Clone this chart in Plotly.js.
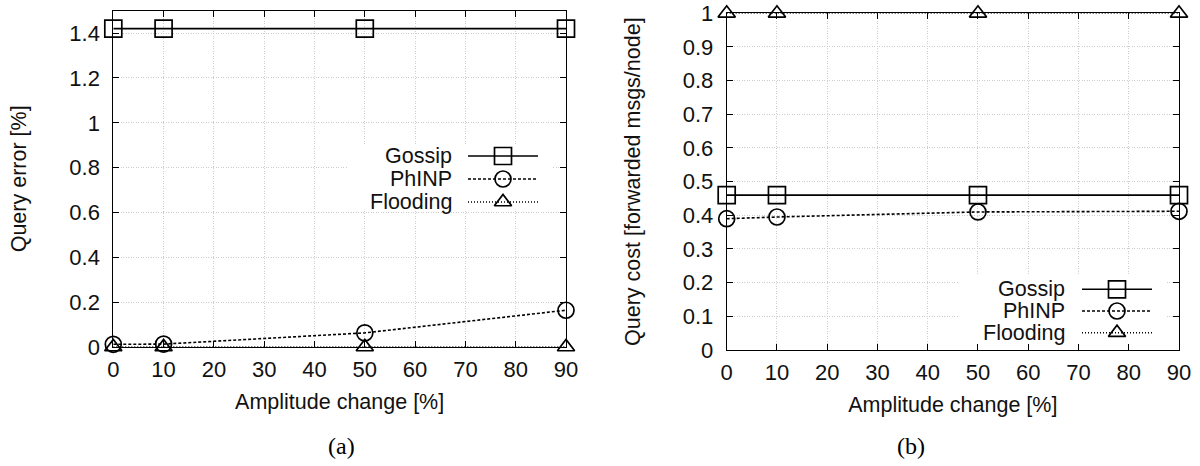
<!DOCTYPE html>
<html>
<head>
<meta charset="utf-8">
<script src="https://cdn.plot.ly/plotly-3.0.1.min.js"></script>
<style>
html,body{margin:0;padding:0;background:#fff;}
#chart{width:1200px;height:466px;}
</style>
</head>
<body>
<div id="chart"></div>
<script>
// ---- data ----
const amplitude = [0, 10, 50, 90];
const seriesNames = ["Gossip", "PhINP", "Flooding"];
const errGossip = [1.42, 1.42, 1.42, 1.42];
const errPhINP = [0.012, 0.013, 0.063, 0.164];
const errFlooding = [0, 0, 0, 0];
const costGossip = [0.46, 0.46, 0.46, 0.46];
const costPhINP = [0.39, 0.395, 0.41, 0.412];
const costFlooding = [1, 1, 1, 1];
const xTitle = "Amplitude change [%]";
const yTitleA = "Query error [%]";
const yTitleB = "Query cost [forwarded msgs/node]";
const captions = ["(a)", "(b)"];

// ---- styles ----
const FONT = "Liberation Sans, Arial, sans-serif";
const SERIF = "Liberation Serif, Times New Roman, serif";
const styles = [
  {line: {color: "#000", width: 1.6, dash: "solid"}, marker: {symbol: "square-open", size: 17, color: "#000", line: {width: 1.7, color: "#000"}}},
  {line: {color: "#000", width: 1.6, dash: "3px,2px"}, marker: {symbol: "circle-open", size: 16, color: "#000", line: {width: 1.7, color: "#000"}}},
  {line: {color: "#000", width: 1.4, dash: "1px,2px"}, marker: {symbol: "triangle-up-open", size: 15, color: "#000", line: {width: 1.7, color: "#000"}}}
];
const dataA = [errGossip, errPhINP, errFlooding];
const dataB = [costGossip, costPhINP, costFlooding];

const traces = [];
dataA.forEach((ys, i) => traces.push({
  type: "scatter", mode: "lines+markers", x: amplitude, y: ys, name: seriesNames[i],
  xaxis: "x", yaxis: "y", line: styles[i].line, marker: styles[i].marker,
  cliponaxis: false, showlegend: false
}));
dataB.forEach((ys, i) => traces.push({
  type: "scatter", mode: "lines+markers", x: amplitude, y: ys, name: seriesNames[i],
  xaxis: "x2", yaxis: "y2", line: styles[i].line, marker: styles[i].marker,
  cliponaxis: false, showlegend: false
}));

// ---- custom gnuplot-style keys (pixel-like overlay axes) ----
const keys = [
  {xa: "x3", ya: "y3", textRight: 454, x1: 468, xm: 503, x2: 538, rows: [156, 179, 202], box: [347, 553, 146, 210]},
  {xa: "x4", ya: "y4", textRight: 1067, x1: 1082, xm: 1117, x2: 1152, rows: [289.3, 311, 332.7], box: [958, 1165, 275, 344]}
];
const annotations = [];
keys.forEach(k => {
  const b = k.box;
  traces.push({type: "scatter", mode: "lines", x: [b[0], b[1], b[1], b[0], b[0]], y: [b[2], b[2], b[3], b[3], b[2]],
    xaxis: k.xa, yaxis: k.ya, fill: "toself", fillcolor: "#ffffff", line: {width: 0, color: "rgba(0,0,0,0)"},
    showlegend: false, hoverinfo: "skip"});
  seriesNames.forEach((nm, i) => {
    traces.push({type: "scatter", mode: "lines", x: [k.x1, k.x2], y: [k.rows[i], k.rows[i]],
      xaxis: k.xa, yaxis: k.ya, line: styles[i].line, showlegend: false, hoverinfo: "skip"});
    traces.push({type: "scatter", mode: "markers", x: [k.xm], y: [k.rows[i]],
      xaxis: k.xa, yaxis: k.ya, marker: styles[i].marker, showlegend: false, hoverinfo: "skip", cliponaxis: false});
    annotations.push({xref: k.xa, yref: k.ya, x: k.textRight, y: k.rows[i], text: nm,
      xanchor: "right", yanchor: "middle", showarrow: false, font: {family: FONT, size: 21.5, color: "#111"}});
  });
});
annotations.push({xref: "paper", yref: "paper", x: 341/1200, y: 1 - 446/466, text: captions[0],
  xanchor: "center", yanchor: "middle", showarrow: false, font: {family: SERIF, size: 24, color: "#000"}});
annotations.push({xref: "paper", yref: "paper", x: 911/1200, y: 1 - 446/466, text: captions[1],
  xanchor: "center", yanchor: "middle", showarrow: false, font: {family: SERIF, size: 24, color: "#000"}});

const tickFont = {family: FONT, size: 22, color: "#111"};
const titleFont = {family: FONT, size: 21.5, color: "#111"};
const GRID = "#cdcdcd";
function xaxis(domain) {
  return {domain: domain, range: [0, 90], tick0: 0, dtick: 10, ticks: "inside", ticklen: 6, tickwidth: 1,
    tickcolor: "#000", mirror: "ticks", showline: true, linecolor: "#000", linewidth: 1,
    showgrid: true, gridcolor: GRID, griddash: "1px,1.5px", gridwidth: 1, zeroline: false,
    tickfont: tickFont, ticklabelstandoff: 3, title: {text: xTitle, font: titleFont, standoff: 12}, fixedrange: true};
}
function yaxis(domain, range, dtick, title) {
  return {domain: domain, range: range, tick0: 0, dtick: dtick, ticks: "inside", ticklen: 6, tickwidth: 1,
    tickcolor: "#000", mirror: "ticks", showline: true, linecolor: "#000", linewidth: 1,
    showgrid: true, gridcolor: GRID, griddash: "1px,1.5px", gridwidth: 1, zeroline: false,
    tickfont: tickFont, ticklabelstandoff: 8, title: {text: title, font: titleFont, standoff: 36}, fixedrange: true};
}
const domXA = [113.3/1200, 566/1200], domYA = [1 - 347/466, 1 - 10.7/466];
const domXB = [726.7/1200, 1179/1200], domYB = [1 - 350/466, 1 - 13.3/466];

const layout = {
  width: 1200, height: 466, autosize: false,
  margin: {l: 0, r: 0, t: 0, b: 0},
  paper_bgcolor: "#fff", plot_bgcolor: "rgba(0,0,0,0)",
  showlegend: false,
  xaxis: Object.assign(xaxis(domXA), {anchor: "y"}),
  yaxis: Object.assign(yaxis(domYA, [0, 1.5], 0.2, yTitleA), {anchor: "x"}),
  xaxis2: Object.assign(xaxis(domXB), {anchor: "y2"}),
  yaxis2: Object.assign(yaxis(domYB, [0, 1], 0.1, yTitleB), {anchor: "x2"}),
  xaxis3: {overlaying: "x", anchor: "y3", range: [113.3, 566], visible: false, fixedrange: true},
  yaxis3: {overlaying: "y", anchor: "x3", range: [347, 10.7], visible: false, fixedrange: true},
  xaxis4: {overlaying: "x2", anchor: "y4", range: [726.7, 1179], visible: false, fixedrange: true},
  yaxis4: {overlaying: "y2", anchor: "x4", range: [350, 13.3], visible: false, fixedrange: true},
  annotations: annotations
};

Plotly.newPlot("chart", traces, layout, {staticPlot: true, displayModeBar: false});
</script>
</body>
</html>
